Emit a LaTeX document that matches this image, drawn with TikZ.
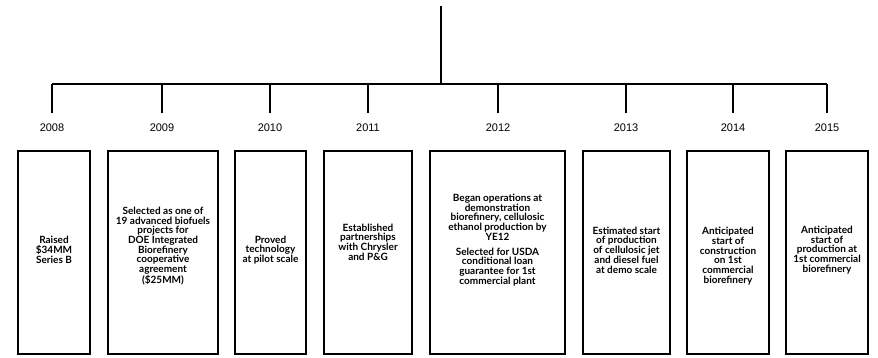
\documentclass[tikz,border=0pt]{standalone}
\usepackage{fontspec}
\setmainfont{Lato}
\newfontfamily\yearfont{Liberation Sans}
\begin{document}
\begin{tikzpicture}[x=1pt,y=-1pt,
  link/.style={draw=black, line width=1.1pt},
  yearlabel/.style={font=\yearfont\fontsize{11}{11}\selectfont, inner sep=0pt},
  card/.style={draw=black, line width=1.5pt, inner sep=0pt, minimum height=203pt},
  cardtext/.style={align=center, inner sep=0pt, font=\bfseries\fontsize{10}{9.7}\selectfont}]
 \useasboundingbox (0,0) rectangle (878,358);

 % trunk and bus
 \coordinate (root) at (441,6);
 \coordinate (busl) at (52,84);
 \coordinate (busr) at (827,84);
 \draw[link] (root) -- (root |- busl);
 \draw[link] (busl) -- (busr);

 % one drop, year and card per year
 \foreach \yr/\xd/\xl/\xr in {2008/52/18/90, 2009/162/108/218, 2010/270/235/306, 2011/368/324/412,
                             2012/498/430/565, 2013/626/583/670, 2014/733/687/769, 2015/827/786/868} {
  \coordinate (d\yr) at (\xd,84);
  \coordinate (e\yr) at (\xd,113);
  \draw[link] (d\yr) -- (e\yr);
  \node[yearlabel] (y\yr) at (\xd,128) {\yr};
  \node[card, minimum width={\xr-\xl}] (b\yr) at ({(\xl+\xr)/2},252.5) {};
 }

 % card texts
 \node[cardtext] (t2008) at ([yshift=2.5]b2008.center) {Raised\\ \$34MM\\ Series B};
 \node[cardtext] (t2009) at ([yshift=6.5]b2009.center) {Selected as one of\\ 19 advanced biofuels\\ projects for\\ DOE Integrated\\ Biorefinery\\ cooperative\\ agreement\\ (\$25MM)};
 \node[cardtext] (t2010) at ([yshift=2.5]b2010.center) {Proved\\ technology\\ at pilot scale};
 \node[cardtext] (t2011) at ([yshift=10.5]b2011.center) {Established\\ partnerships\\ with Chrysler\\ and P\&G};
 \node[cardtext] (t2012) at ([yshift=12.5]b2012.center) {Began operations at\\ demonstration\\ biorefinery, cellulosic\\ ethanol production by\\ YE12\\[5pt] Selected for USDA\\ conditional loan\\ guarantee for 1st\\ commercial plant};
 \node[cardtext] (t2013) at ([yshift=2.5]b2013.center) {Estimated start\\ of production\\ of cellulosic jet\\ and diesel fuel\\ at demo scale};
 \node[cardtext] (t2014) at ([yshift=-3.5]b2014.center) {Anticipated\\ start of\\ construction\\ on 1st\\ commercial\\ biorefinery};
 \node[cardtext] (t2015) at ([yshift=2.5]b2015.center) {Anticipated\\ start of\\ production at\\ 1st commercial\\ biorefinery};
\end{tikzpicture}
\end{document}
